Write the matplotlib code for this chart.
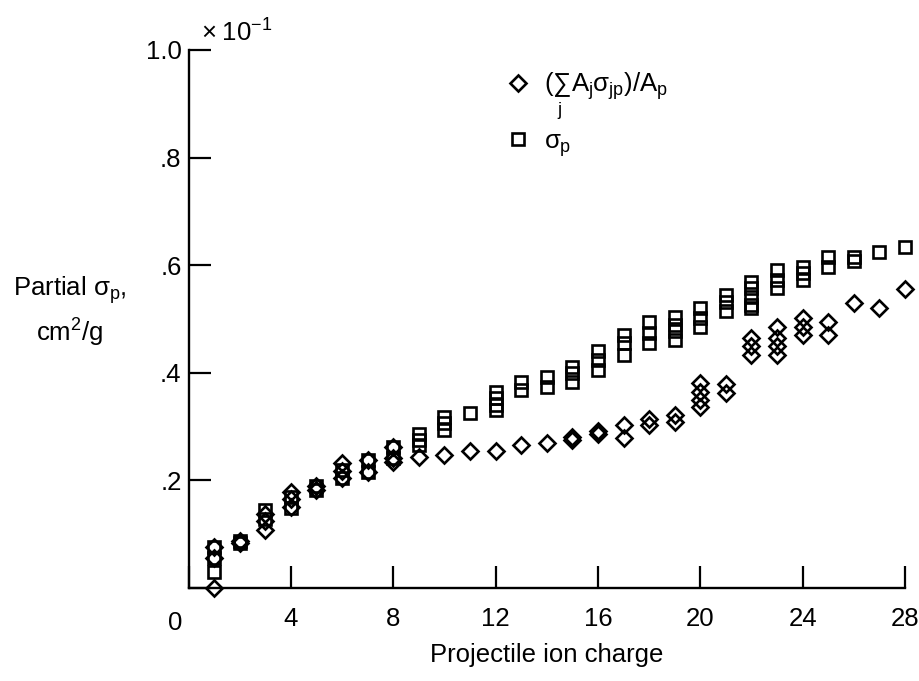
import matplotlib
matplotlib.use("Agg")
import matplotlib.pyplot as plt
from matplotlib.ticker import FixedLocator, FixedFormatter

plt.rcParams['font.family'] = ['Liberation Sans', 'DejaVu Sans']
plt.rcParams['mathtext.fontset'] = 'custom'
plt.rcParams['mathtext.rm'] = 'Liberation Sans'
plt.rcParams['mathtext.it'] = 'Liberation Sans'
plt.rcParams['mathtext.bf'] = 'Liberation Sans:bold'

# ---- data: (sum_j A_j sigma_jp)/A_p  (diamonds) ----
diamond_x = [1, 1, 1, 2, 2, 3, 3, 3, 4, 4, 4, 5, 5, 6, 6, 6, 7, 7, 8, 8, 8,
             9, 10, 11, 12, 13, 14, 15, 15, 16, 16, 17, 17, 18, 18, 19, 19,
             20, 20, 20, 20, 21, 21, 22, 22, 22, 23, 23, 23, 23, 24, 24, 24,
             25, 25, 26, 27, 28]
diamond_y = [0.0, 0.056, 0.077, 0.084, 0.088, 0.108, 0.125, 0.138, 0.151, 0.165, 0.179,
             0.183, 0.190, 0.204, 0.218, 0.232, 0.216, 0.238, 0.235, 0.242, 0.263,
             0.244, 0.247, 0.254, 0.255, 0.266, 0.270, 0.275, 0.280, 0.286, 0.291,
             0.279, 0.303, 0.303, 0.315, 0.309, 0.322,
             0.337, 0.349, 0.365, 0.381, 0.362, 0.380, 0.433, 0.449, 0.464,
             0.433, 0.449, 0.464, 0.486, 0.470, 0.486, 0.501,
             0.470, 0.495, 0.529, 0.520, 0.555]

# ---- data: sigma_p (squares) ----
square_x = [1, 1, 1, 2, 2, 3, 3, 4, 4, 5, 5, 6, 6, 7, 7, 8, 8, 9, 9, 9,
            10, 10, 10, 11, 12, 12, 12, 12, 13, 13, 14, 14, 15, 15, 15,
            16, 16, 16, 17, 17, 17, 18, 18, 18, 19, 19, 19, 19, 20, 20, 20,
            21, 21, 21, 22, 22, 22, 22, 22, 23, 23, 23, 24, 24, 24, 25, 25,
            26, 26, 27, 28]
square_y = [0.030, 0.056, 0.077, 0.084, 0.088, 0.128, 0.145, 0.149, 0.170,
            0.183, 0.190, 0.204, 0.219, 0.216, 0.238, 0.242, 0.263,
            0.266, 0.275, 0.287, 0.294, 0.306, 0.318, 0.325,
            0.331, 0.340, 0.353, 0.365, 0.368, 0.383, 0.374, 0.393,
            0.383, 0.400, 0.411, 0.405, 0.424, 0.440, 0.433, 0.455, 0.470,
            0.455, 0.474, 0.495, 0.461, 0.477, 0.489, 0.504, 0.486, 0.502, 0.520,
            0.514, 0.532, 0.545, 0.520, 0.526, 0.541, 0.557, 0.569,
            0.558, 0.572, 0.591, 0.572, 0.585, 0.597, 0.597, 0.616,
            0.607, 0.615, 0.625, 0.633]

x_ticks = [0, 4, 8, 12, 16, 20, 24, 28]
x_ticklabels = ['', '4', '8', '12', '16', '20', '24', '28']
y_ticks = [0, 0.2, 0.4, 0.6, 0.8, 1.0]
y_ticklabels = ['', '.2', '.4', '.6', '.8', '1.0']

label_diamond = r'$(\sum_{j}\,A_j\sigma_{jp})/A_p$'
label_square = r'$\sigma_p$'

FS = 18.5
W, H = 920, 681
fig = plt.figure(figsize=(W / 100, H / 100), dpi=100)
ax = fig.add_axes([188.5 / W, (H - 588) / H, (905 - 188.5) / W, (588 - 50) / H])

l1, = ax.plot(diamond_x, diamond_y, linestyle='none', marker='D', markersize=8.0,
              markerfacecolor='none', markeredgecolor='black', markeredgewidth=1.9,
              clip_on=False)
l2, = ax.plot(square_x, square_y, linestyle='none', marker='s', markersize=8.6,
              markerfacecolor='none', markeredgecolor='black', markeredgewidth=1.9,
              clip_on=False)

ax.set_xlim(0, 28)
ax.set_ylim(0, 1.0)
for s in ['top', 'right']:
    ax.spines[s].set_visible(False)
for s in ['left', 'bottom']:
    ax.spines[s].set_linewidth(1.7)

ax.xaxis.set_major_locator(FixedLocator(x_ticks))
ax.xaxis.set_major_formatter(FixedFormatter(x_ticklabels))
ax.yaxis.set_major_locator(FixedLocator(y_ticks))
ax.yaxis.set_major_formatter(FixedFormatter(y_ticklabels))
ax.tick_params(direction='in', length=16, width=1.6, labelsize=FS)
ax.tick_params(axis='x', pad=14)
ax.tick_params(axis='y', pad=5)

fig.text(175 / W, 1 - 623 / H, '0', fontsize=FS, ha='center', va='center')
ax.set_xlabel('Projectile ion charge', fontsize=FS, labelpad=8)

fig.text(70 / W, 1 - 290 / H, r"Partial $\sigma_{p}$,", fontsize=FS,
         ha='center', va='center')
fig.text(70 / W, 1 - 333 / H, r"cm$^{2}$/g", fontsize=FS,
         ha='center', va='center')

fig.text(201 / W, 1 - 33 / H, r"$\times\;10^{-1}$", fontsize=FS,
         ha='left', va='center')

leg = ax.legend([l1, l2], [label_diamond, label_square], loc='upper left',
                bbox_to_anchor=(505 / W, 1 - 70 / H), bbox_transform=fig.transFigure,
                frameon=False, fontsize=FS, handlelength=1.0, handletextpad=0.5,
                labelspacing=0.3, borderaxespad=0, borderpad=0)

fig.savefig('out.png', dpi=100)
